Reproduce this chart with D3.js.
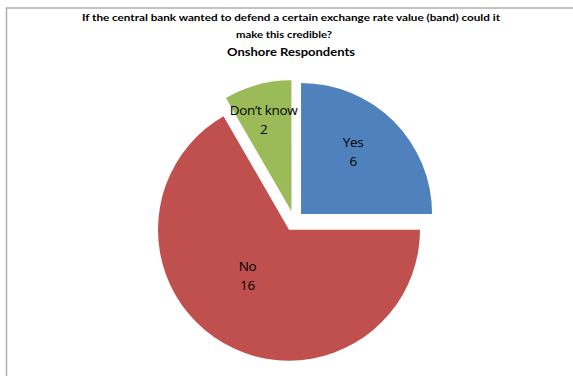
<!DOCTYPE html>
<html>
<head>
<meta charset="utf-8">
<script src="https://cdn.jsdelivr.net/npm/d3@7"></script>
<style>
  html, body { margin: 0; padding: 0; background: #fff; }
  svg { display: block; }
</style>
</head>
<body>
<svg id="chart" width="573" height="376"></svg>
<script>
const categories = ["Yes", "No", "Don\u2019t know"];
const values = [6, 16, 2];
const titleLines = [
  "If the central bank wanted to defend a certain exchange rate value (band) could it",
  "make this credible?"
];
const subtitle = "Onshore Respondents";

const colors = ["#4F81BD", "#C0504D", "#9BBB59"];
const labelDist = [81, 62, 95];
const labelAngleShift = [-5, 12, -2];

const svg = d3.select("#chart");

// border
svg.append("rect").attr("x", 6.5).attr("y", 8).attr("width", 600).attr("height", 400)
  .attr("fill", "none").attr("stroke", "#b0b0b0").attr("stroke-width", 1.5);

const font = "Lato, 'Open Sans', sans-serif";
const cx = 291;
svg.append("text").attr("x", cx).attr("y", 21).attr("text-anchor", "middle")
  .attr("font-family", font).attr("font-weight", "bold").attr("font-size", 10)
  .attr("textLength", 418).attr("lengthAdjust", "spacingAndGlyphs")
  .text(titleLines[0]);
svg.append("text").attr("x", 284).attr("y", 38).attr("text-anchor", "middle")
  .attr("font-family", font).attr("font-weight", "bold").attr("font-size", 10)
  .attr("textLength", 96).attr("lengthAdjust", "spacingAndGlyphs")
  .text(titleLines[1]);
svg.append("text").attr("x", cx).attr("y", 56).attr("text-anchor", "middle")
  .attr("font-family", font).attr("font-weight", "bold").attr("font-size", 12)
  .attr("textLength", 128).attr("lengthAdjust", "spacingAndGlyphs")
  .text(subtitle);

const center = [294, 221];
const r = 131;
const explode = 10;

const data = categories.map((c, i) => ({ cat: c, val: values[i], i }));
const pie = d3.pie().value(d => d.val).sort(null);
const arcs = pie(data);
const arc = d3.arc().innerRadius(0).outerRadius(r);

const g = svg.append("g").attr("transform", `translate(${center[0]},${center[1]})`);

arcs.forEach(a => {
  const mid = (a.startAngle + a.endAngle) / 2;
  const dx = Math.sin(mid) * explode, dy = -Math.cos(mid) * explode;
  const sg = g.append("g").attr("transform", `translate(${dx},${dy})`);
  sg.append("path").attr("d", arc(a)).attr("fill", colors[a.data.i]);
  const la = mid + labelAngleShift[a.data.i] * Math.PI / 180;
  const lx = Math.sin(la) * labelDist[a.data.i];
  const ly = -Math.cos(la) * labelDist[a.data.i];
  const t = sg.append("text").attr("text-anchor", "middle")
    .attr("font-family", "'Open Sans', Lato, sans-serif").attr("font-size", 13.5)
    .attr("letter-spacing", -0.3)
    .attr("fill", "#000");
  t.append("tspan").attr("x", lx).attr("y", ly - 5).text(a.data.cat);
  t.append("tspan").attr("x", lx).attr("y", ly + 14).text(a.data.val);
});
</script>
</body>
</html>
